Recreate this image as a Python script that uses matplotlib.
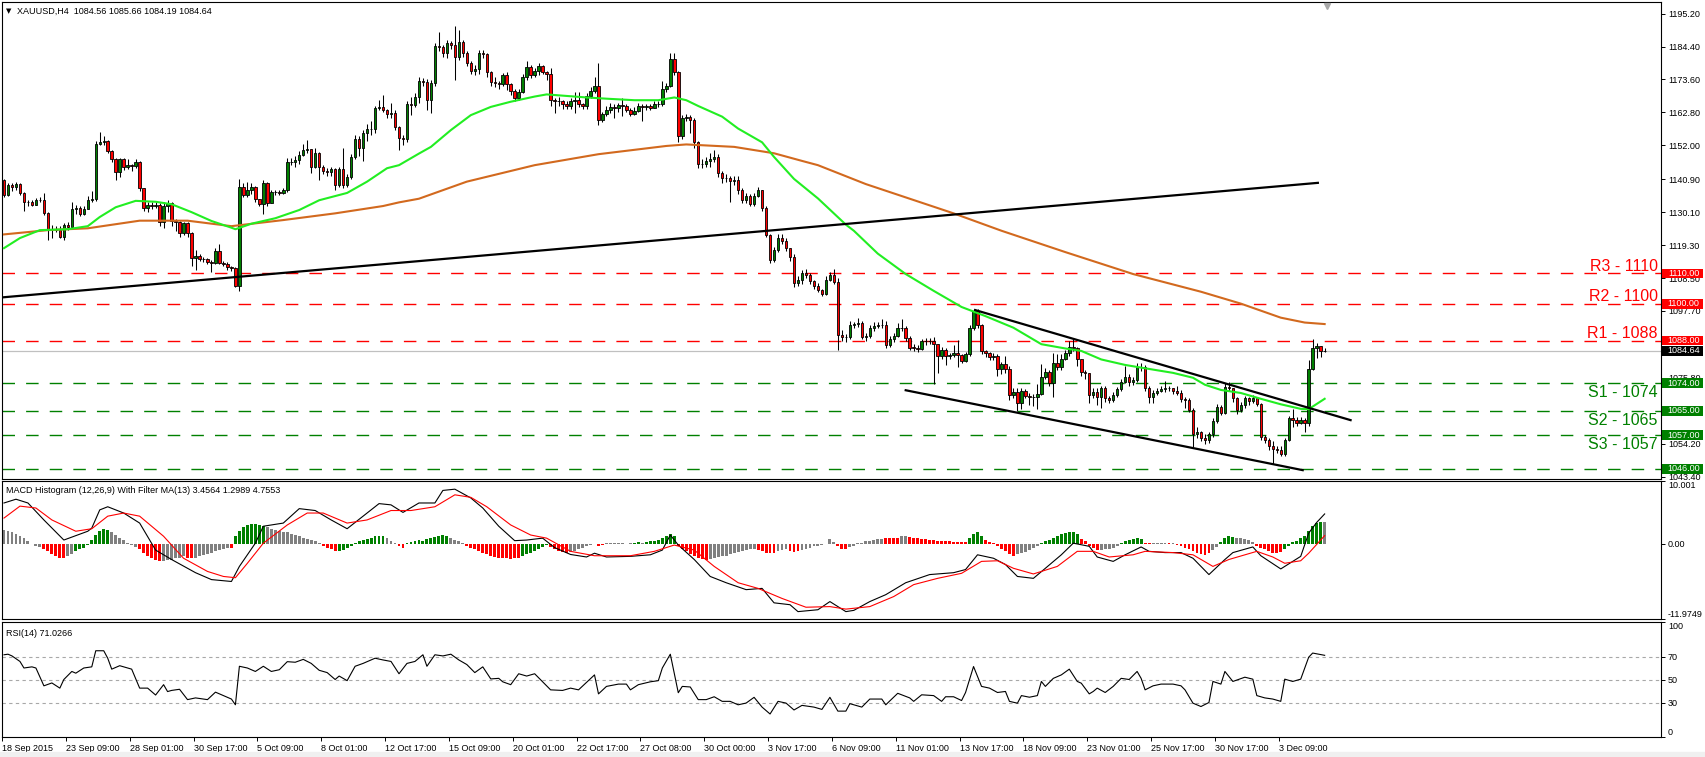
import matplotlib
matplotlib.use("Agg")
import matplotlib.pyplot as plt
import matplotlib.transforms as mtransforms
from matplotlib.patches import Rectangle
import numpy as np

plt.rcParams['font.family'] = ['Liberation Sans', 'DejaVu Sans']

# ---- XAUUSD H4 candles ----
first_open = 1140.5
closes = [
    1135.8, 1139.0, 1138.3, 1139.2, 1136.4, 1133.5, 1133.3, 1132.6, 1134.1, 1134.0,
    1129.8, 1124.5, 1124.6, 1124.4, 1122.0, 1125.8, 1125.3, 1131.2, 1131.5, 1129.6,
    1131.2, 1134.1, 1134.3, 1152.6, 1153.2, 1153.4, 1150.3, 1147.4, 1143.4, 1147.4,
    1145.0, 1145.5, 1145.3, 1146.5, 1137.9, 1131.6, 1132.4, 1132.0, 1132.4, 1126.9,
    1132.0, 1133.0, 1127.3, 1127.0, 1123.2, 1126.4, 1123.2, 1115.1, 1115.7, 1114.7,
    1114.6, 1113.8, 1113.5, 1117.4, 1113.5, 1113.0, 1112.2, 1111.7, 1105.9, 1138.3,
    1135.7, 1137.3, 1138.5, 1134.3, 1132.7, 1139.6, 1133.0, 1136.6, 1136.6, 1136.4,
    1137.3, 1146.6, 1146.4, 1147.3, 1148.8, 1150.6, 1150.8, 1145.0, 1149.4, 1145.0,
    1143.5, 1143.3, 1144.1, 1139.0, 1144.1, 1139.0, 1141.7, 1148.2, 1154.2, 1151.0,
    1155.9, 1157.5, 1157.3, 1164.1, 1164.6, 1163.5, 1162.4, 1162.7, 1158.0, 1154.5,
    1154.0, 1165.5, 1165.3, 1167.8, 1173.1, 1172.8, 1166.8, 1172.4, 1184.5, 1184.4,
    1182.3, 1185.5, 1184.8, 1180.9, 1185.8, 1182.3, 1179.0, 1176.5, 1177.0, 1182.3,
    1181.8, 1176.0, 1172.7, 1172.6, 1172.0, 1175.0, 1172.0, 1169.9, 1167.5, 1169.6,
    1174.4, 1177.7, 1175.2, 1176.3, 1178.0, 1176.2, 1175.4, 1166.8, 1166.5, 1166.5,
    1165.5, 1165.0, 1166.7, 1167.0, 1165.5, 1164.8, 1168.3, 1169.7, 1171.6, 1160.4,
    1162.2, 1163.7, 1164.6, 1164.2, 1165.1, 1165.0, 1163.6, 1162.2, 1163.3, 1164.9,
    1164.5, 1164.8, 1164.3, 1165.5, 1165.6, 1170.4, 1171.4, 1180.2, 1176.1, 1155.2,
    1161.1, 1161.4, 1160.2, 1153.0, 1145.8, 1146.0, 1147.0, 1147.6, 1148.1, 1142.9,
    1141.2, 1141.3, 1140.2, 1140.7, 1137.4, 1134.2, 1135.4, 1132.8, 1135.4, 1137.2,
    1131.4, 1122.6, 1114.4, 1117.7, 1121.6, 1120.5, 1118.3, 1115.4, 1106.8, 1108.0,
    1110.3, 1109.6, 1107.5, 1105.8, 1104.7, 1103.4, 1108.0, 1109.4, 1107.3, 1089.8,
    1089.3, 1089.0, 1093.1, 1093.3, 1093.6, 1089.2, 1089.5, 1092.0, 1092.7, 1093.1,
    1093.1, 1086.5, 1088.4, 1089.5, 1092.0, 1092.2, 1088.7, 1085.7, 1085.6, 1085.1,
    1087.9, 1087.8, 1087.9, 1086.8, 1082.9, 1084.9, 1082.9, 1083.2, 1084.0, 1083.3,
    1081.4, 1083.5, 1092.0, 1097.8, 1093.1, 1084.6, 1083.8, 1082.5, 1082.9, 1078.8,
    1080.3, 1078.8, 1070.1, 1071.2, 1067.4, 1071.5, 1069.8, 1069.6, 1069.4, 1070.6,
    1076.1, 1077.7, 1074.1, 1080.5, 1079.4, 1082.1, 1083.8, 1085.9, 1085.5, 1082.1,
    1077.7, 1077.3, 1070.1, 1071.2, 1069.5, 1072.3, 1069.0, 1068.5, 1070.1, 1072.0,
    1074.5, 1076.1, 1074.5, 1075.2, 1079.4, 1079.2, 1072.6, 1069.5, 1070.9, 1071.5,
    1072.0, 1072.3, 1072.3, 1071.6, 1070.8, 1068.7, 1068.5, 1065.2, 1057.5, 1058.1,
    1056.2, 1055.3, 1057.3, 1061.7, 1066.3, 1064.3, 1072.8, 1072.6, 1069.0, 1065.2,
    1066.8, 1069.0, 1068.2, 1069.0, 1067.2, 1056.4, 1055.3, 1053.4, 1052.6, 1052.1,
    1050.8, 1055.3, 1062.5, 1062.0, 1061.0, 1061.8, 1060.8, 1078.8, 1085.4, 1086.2,
    1084.56, 1084.64,
]
highs = [
    1141.0, 1139.8, 1139.5, 1140.0, 1139.5, 1136.8, 1134.0, 1134.0, 1134.8, 1135.2,
    1136.5, 1130.0, 1126.0, 1125.5, 1125.5, 1126.5, 1127.0, 1133.5, 1132.5, 1132.0,
    1132.0, 1135.5, 1137.0, 1153.5, 1156.5, 1155.2, 1153.6, 1150.5, 1147.8, 1148.0,
    1148.0, 1147.4, 1146.0, 1147.4, 1147.0, 1138.0, 1133.5, 1133.3, 1133.3, 1133.0,
    1133.5, 1134.0, 1133.5, 1128.0, 1127.3, 1127.0, 1126.8, 1123.5, 1117.8, 1116.5,
    1115.5, 1115.0, 1114.5, 1118.5, 1119.5, 1114.0, 1113.8, 1112.5, 1112.0, 1140.9,
    1139.8, 1140.0, 1139.5, 1138.8, 1134.5, 1140.8, 1140.0, 1137.2, 1137.5, 1137.2,
    1138.0, 1148.0, 1147.8, 1148.5, 1150.0, 1152.6, 1153.9, 1150.5, 1151.0, 1149.8,
    1145.5, 1144.5, 1145.0, 1144.5, 1145.0, 1151.0, 1142.5, 1149.0, 1155.5, 1155.0,
    1157.0, 1159.0, 1160.0, 1165.0, 1166.8, 1168.5, 1164.0, 1166.0, 1163.5, 1158.5,
    1155.5, 1166.5, 1168.0, 1169.0, 1174.3, 1174.0, 1173.6, 1173.5, 1185.5, 1189.2,
    1185.0, 1186.5, 1186.3, 1191.0, 1189.8, 1186.5, 1182.8, 1179.5, 1178.3, 1183.3,
    1183.3, 1182.2, 1176.3, 1174.5, 1173.0, 1175.7, 1176.0, 1172.5, 1170.5, 1170.4,
    1175.4, 1179.5, 1178.5, 1177.5, 1179.0, 1178.5, 1176.5, 1177.5, 1167.5, 1168.0,
    1167.0, 1166.5, 1167.5, 1169.5, 1169.5, 1166.0, 1169.0, 1171.0, 1174.5, 1179.0,
    1163.0, 1165.0, 1166.0, 1165.5, 1166.0, 1167.5, 1165.5, 1164.2, 1164.5, 1166.0,
    1165.5, 1165.7, 1165.6, 1166.4, 1166.6, 1173.0, 1172.5, 1182.2, 1182.2, 1176.5,
    1162.0, 1162.3, 1162.0, 1161.0, 1153.5, 1147.5, 1148.3, 1149.5, 1150.5, 1149.0,
    1143.5, 1142.5, 1142.0, 1142.0, 1142.0, 1138.0, 1136.5, 1136.0, 1136.3, 1138.5,
    1137.5, 1132.0, 1123.0, 1118.8, 1122.8, 1122.8, 1121.5, 1118.5, 1116.5, 1109.0,
    1111.0, 1111.5, 1110.0, 1108.0, 1106.8, 1105.0, 1109.0, 1110.5, 1111.3, 1108.5,
    1091.4, 1090.0, 1094.5, 1094.0, 1095.3, 1094.5, 1090.5, 1093.0, 1094.0, 1094.0,
    1095.0, 1094.5, 1089.5, 1090.5, 1093.8, 1095.0, 1092.8, 1089.5, 1086.8, 1086.5,
    1088.6, 1088.8, 1088.8, 1089.0, 1087.0, 1086.0, 1085.5, 1084.0, 1086.4, 1088.1,
    1083.5, 1084.2, 1093.0, 1098.5, 1098.3, 1093.5, 1085.0, 1084.2, 1084.0, 1083.5,
    1081.0, 1082.9, 1079.5, 1072.5, 1072.3, 1072.5, 1072.0, 1070.8, 1070.5, 1073.9,
    1080.3, 1079.0, 1078.5, 1083.8, 1083.5, 1083.5, 1085.0, 1088.0, 1088.4, 1086.0,
    1082.0, 1078.5, 1077.5, 1072.5, 1072.3, 1073.0, 1073.0, 1069.8, 1071.0, 1072.8,
    1075.5, 1079.6, 1077.0, 1076.0, 1080.5, 1080.7, 1080.0, 1073.0, 1071.8, 1072.5,
    1073.0, 1074.8, 1073.0, 1072.5, 1073.0, 1071.8, 1069.5, 1069.0, 1066.0, 1059.5,
    1058.5, 1057.5, 1058.0, 1062.5, 1067.2, 1066.8, 1074.0, 1074.5, 1072.5, 1069.5,
    1068.0, 1069.8, 1069.5, 1070.0, 1069.2, 1067.5, 1057.0, 1056.0, 1055.0, 1053.5,
    1053.3, 1056.0, 1063.2, 1065.5, 1063.0, 1062.8, 1062.5, 1081.5, 1088.4, 1087.3,
    1086.3, 1085.66,
]
lows = [
    1135.0, 1135.5, 1137.0, 1137.5, 1135.8, 1130.5, 1132.0, 1132.0, 1132.3, 1133.3,
    1129.0, 1120.9, 1121.5, 1123.5, 1121.5, 1121.0, 1124.3, 1124.5, 1129.5, 1128.8,
    1129.0, 1131.0, 1133.5, 1133.8, 1152.0, 1152.0, 1149.5, 1146.5, 1140.7, 1141.5,
    1144.0, 1144.3, 1143.5, 1144.5, 1137.0, 1130.5, 1130.0, 1131.0, 1131.5, 1125.5,
    1125.0, 1130.0, 1125.5, 1124.0, 1122.0, 1122.5, 1122.0, 1112.4, 1111.0, 1114.0,
    1113.8, 1113.0, 1110.5, 1113.0, 1113.0, 1112.3, 1111.0, 1110.8, 1105.5, 1104.2,
    1135.0, 1135.0, 1136.0, 1133.5, 1132.0, 1129.6, 1132.0, 1133.0, 1135.8, 1135.6,
    1136.0, 1136.8, 1145.5, 1145.0, 1146.0, 1148.5, 1149.5, 1143.0, 1144.5, 1140.7,
    1142.5, 1142.0, 1142.0, 1137.5, 1138.5, 1138.0, 1138.5, 1141.0, 1147.5, 1148.5,
    1147.0, 1153.5, 1155.5, 1156.0, 1163.5, 1162.8, 1161.0, 1161.0, 1157.0, 1150.5,
    1152.0, 1153.0, 1162.0, 1164.5, 1166.0, 1171.5, 1163.5, 1162.6, 1171.5, 1183.0,
    1181.0, 1180.5, 1183.5, 1173.4, 1180.0, 1181.0, 1178.0, 1175.5, 1175.0, 1175.5,
    1180.5, 1174.5, 1171.5, 1171.0, 1170.5, 1171.5, 1170.0, 1168.5, 1166.5, 1167.0,
    1169.0, 1173.5, 1174.0, 1174.3, 1175.0, 1175.5, 1173.5, 1165.0, 1162.5, 1165.0,
    1164.0, 1164.0, 1164.0, 1162.5, 1164.5, 1164.0, 1164.0, 1167.5, 1169.0, 1158.7,
    1159.5, 1161.5, 1162.5, 1161.0, 1163.0, 1161.5, 1162.8, 1161.5, 1162.0, 1163.0,
    1160.0, 1163.5, 1163.5, 1164.5, 1164.5, 1165.0, 1169.5, 1171.0, 1175.0, 1153.0,
    1154.0, 1160.0, 1156.0, 1151.0, 1144.5, 1144.5, 1145.0, 1145.0, 1146.5, 1141.5,
    1139.5, 1140.0, 1133.5, 1139.0, 1136.0, 1133.0, 1133.0, 1132.0, 1132.0, 1135.0,
    1130.5, 1121.8, 1113.5, 1113.8, 1117.0, 1119.5, 1117.5, 1114.0, 1105.5, 1106.0,
    1106.5, 1108.5, 1106.5, 1104.8, 1103.8, 1102.5, 1103.0, 1107.5, 1106.5, 1084.9,
    1088.0, 1087.5, 1088.5, 1092.0, 1092.5, 1088.5, 1088.0, 1088.8, 1091.0, 1092.0,
    1092.0, 1085.5, 1086.0, 1087.5, 1089.0, 1091.0, 1088.0, 1085.0, 1084.5, 1084.2,
    1085.0, 1086.5, 1087.0, 1073.9, 1077.2, 1082.0, 1079.9, 1082.0, 1082.5, 1079.4,
    1080.5, 1081.0, 1083.0, 1091.5, 1092.0, 1083.5, 1082.5, 1081.5, 1081.5, 1076.5,
    1077.0, 1077.5, 1068.5, 1069.0, 1065.0, 1065.5, 1069.0, 1067.0, 1066.5, 1065.7,
    1070.0, 1075.5, 1073.0, 1069.6, 1078.5, 1078.5, 1081.5, 1083.0, 1084.5, 1079.5,
    1076.5, 1075.5, 1067.6, 1069.0, 1067.0, 1066.0, 1068.0, 1067.5, 1067.8, 1069.5,
    1071.5, 1074.0, 1073.0, 1073.5, 1074.5, 1078.0, 1071.5, 1067.6, 1067.5, 1070.0,
    1071.0, 1071.0, 1071.5, 1070.5, 1070.0, 1068.0, 1066.0, 1064.5, 1053.2, 1056.0,
    1055.0, 1054.0, 1054.5, 1056.5, 1061.0, 1063.5, 1064.0, 1071.5, 1068.0, 1064.0,
    1064.5, 1066.0, 1067.0, 1067.5, 1066.5, 1055.5, 1054.5, 1052.0, 1047.5, 1051.0,
    1050.0, 1050.3, 1055.0, 1059.7, 1060.0, 1060.5, 1058.1, 1060.0, 1078.5, 1082.3,
    1082.5, 1084.19,
]

# moving averages (green = fast, orange = slow), read at selected bars
ma_fast_bars = [0, 4, 9, 16, 21, 24, 28, 33, 38, 42, 47, 52, 57, 58, 62, 68, 74, 79, 86, 91,
                96, 99, 104, 107, 112, 117, 122, 127, 133, 136, 141, 146, 151, 158, 164, 168,
                171, 174, 180, 184, 190, 193, 198, 204, 211, 213, 219, 226, 233, 240, 246,
                253, 260, 266, 270, 275, 281, 286, 293, 298, 301, 305, 310, 315, 320, 325,
                327, 331]
ma_fast_vals = [1118.3, 1121.6, 1124.2, 1124.5, 1125.5, 1128.5, 1131.7, 1133.8, 1133.5, 1132.7,
                1130.1, 1127.2, 1125.0, 1124.5, 1126.3, 1128.1, 1130.8, 1134.0, 1136.4, 1140.1,
                1144.5, 1145.5, 1149.3, 1151.5, 1157.0, 1161.9, 1164.6, 1166.3, 1168.0, 1168.7,
                1168.2, 1167.7, 1167.3, 1166.8, 1166.8, 1167.7, 1166.8, 1164.9, 1161.4, 1157.5,
                1153.0, 1148.2, 1141.0, 1134.6, 1126.0, 1124.0, 1116.5, 1109.8, 1104.3, 1099.0,
                1096.0, 1092.2, 1086.8, 1085.4, 1084.6, 1081.8, 1080.0, 1078.9, 1077.4, 1075.8,
                1073.5, 1071.8, 1070.8, 1068.9, 1067.1, 1065.6, 1065.5, 1068.9]
ma_slow_bars = [0, 11, 21, 34, 46, 57, 70, 83, 95, 99, 104, 116, 133, 149, 166, 171, 183, 193,
                200, 204, 216, 238, 250, 266, 283, 300, 310, 320, 326, 331]
ma_slow_vals = [1122.8, 1124.2, 1124.8, 1127.3, 1127.3, 1125.5, 1127.5, 1129.7, 1132.1, 1133.3,
                1134.5, 1140.1, 1145.5, 1149.1, 1151.8, 1152.3, 1151.5, 1149.4, 1146.9, 1145.5,
                1139.3, 1129.7, 1124.0, 1117.0, 1109.8, 1104.0, 1100.1, 1095.5, 1093.9, 1093.4]

# hand-drawn trend lines: (bar, price) start / end
trend_long = ([0, 329.3], [1102.2, 1139.7])
channel_top = ([243.4, 337.5], [1098.0, 1061.9])
channel_bottom = ([226.0, 325.5], [1071.7, 1045.5])

# support / resistance levels
res_levels = [1110, 1100, 1088]
res_names = ["R3 - 1110", "R2 - 1100", "R1 - 1088"]
sup_levels = [1074, 1065, 1057, 1046]
sup_names = ["S1 - 1074", "S2 - 1065", "S3 - 1057", ""]
last_price = 1084.64

price_ticks = [1195.20, 1184.40, 1173.60, 1162.80, 1152.00, 1140.90, 1130.10, 1119.30,
               1108.50, 1097.70, 1086.90, 1075.80, 1065.00, 1054.20, 1043.40]
# scale labels that sit fully under a price box in the reference
hidden_ticks = [1086.90, 1065.00]

# MACD histogram (12,26,9) with filter MA(13)
hist_vals = [
    2.2, 2.1, 1.9, 1.6, 1.3, 0.9, 0.5, -0.1, -0.3, -0.5,
    -0.8, -1.2, -1.6, -2.0, -2.2, -2.3, -2.0, -1.6, -1.2, -0.9, -0.6, -0.2,
    0.6, 1.4, 2.0, 2.4, 2.2, 1.8, 1.4, 1.0, 0.6, 0.2, -0.2, -0.5,
    -0.9, -1.4, -1.9, -2.3, -2.6, -2.8, -2.8, -2.6, -2.5, -2.3, -2.2, -2.0, -2.2, -2.3,
    -2.2, -2.0, -1.8, -1.6, -1.4, -1.2, -1.0, -0.8, -0.6, -0.6,
    1.2, 2.0, 2.6, 3.0, 3.2, 3.2, 3.0, 2.8,
    2.6, 2.4, 2.2, 2.0, 1.9, 1.8, 1.6, 1.4, 1.2, 1.0, 0.8, 0.6, 0.4, 0.2,
    -0.3, -0.6, -0.9, -1.1, -1.2, -1.0, -0.7, -0.3,
    0.2, 0.4, 0.6, 0.8, 1.0, 1.2, 1.3, 1.2, 0.9, 0.5, 0.2, -0.3, -0.6,
    0.2, 0.3, 0.4, 0.6, 0.5, 0.7, 0.9, 1.1, 1.3, 1.4, 1.2, 0.9, 0.6, 0.4, 0.2,
    -0.3, -0.6, -0.9, -1.2, -1.5, -1.7, -1.9, -2.1, -2.2, -2.3, -2.3, -2.4, -2.3, -2.2,
    -2.0, -1.7, -1.4, -1.1, -0.8, -0.5, -0.2, -0.5, -0.8, -1.1, -1.3, -1.5,
    -1.3, -1.1, -0.9, -0.6, -0.4, -0.2, -0.1, -0.3, -0.2,
    0.1, 0.1, 0.1, 0.1, 0.05, -0.1, 0.1, 0.2, 0.3, 0.2,
    0.3, 0.4, 0.5, 0.6, 0.9, 1.3, 1.5, 1.3,
    -0.3, -0.8, -1.2, -1.6, -1.9, -2.2, -2.4, -2.5,
    -2.4, -2.3, -2.1, -2.0, -1.9, -1.7, -1.5, -1.3, -1.2, -1.0, -0.9, -0.8,
    -1.0, -1.2, -1.4, -1.5, -1.4, -1.2, -1.0, -0.9, -1.1, -1.3, -1.2,
    -1.0, -0.8, -0.6, -0.4, -0.3, -0.2, -0.1, 0.7, 0.3, -0.4, -0.8, -0.9, -0.5, -0.3,
    0.1, 0.2, 0.4, 0.5, 0.6, 0.7, 0.8, 0.9, 0.9, 0.9, 1.0, 1.3, 1.3,
    1.1, 1.0, 0.9, 0.8, 0.7, 0.6, 0.6, 0.5, 0.5, 0.4, 0.4, 0.3, 0.3, 0.3, 0.3,
    1.0, 1.6, 1.8, 1.3, 0.6, 0.3, 0.1, -0.4, -0.8, -1.2, -1.6, -1.9,
    -1.7, -1.5, -1.3, -1.0, -0.7, -0.4,
    0.2, 0.4, 0.6, 0.9, 1.2, 1.5, 1.7, 1.8, 1.8, 1.6, 0.8, 0.4,
    -0.3, -0.7, -1.0, -1.0, -0.9, -0.8, -0.6, -0.3,
    0.2, 0.4, 0.6, 0.8, 0.9, 0.7, 0.2, 0.1, 0.1, 0.1, 0.1, 0.1, 0.1, 0.05,
    -0.2, -0.4, -0.6, -0.9, -1.2, -1.5, -1.7, -1.8, -1.5, -1.0, -0.5,
    0.3, 0.9, 1.2, 1.1, 1.0, 0.9, 0.8, 0.6, 0.3,
    -0.3, -0.6, -0.9, -1.2, -1.4, -1.5, -1.3, -0.8, -0.3,
    0.3, 0.5, 0.9, 1.3, 2.0, 2.8, 3.3, 3.4, 3.46,
]
hist_cols = ("kkkkkkk" "kkk" "rrrrrr" "kk" "gggg" "ggggg" "kkkkk" "kk"
             "rrrrrr" "kkkkkk" "rr" "kkkkkkkkk" "r" "gggggggg" "kkkkkkkkkkkkkk"
             "rrrr" "gggg" "gggggggg" "kkk" "rr" "ggggggggggg" "kkkk"
             "rrrrrrrrrrrrrr" "ggggggg" "rrrrr" "kkkkkk" "krr" "kkkkk" "r" "k"
             "gg" "k" "gggggggg" "rrrrrrrr" "kkkkkkkkkkkk" "rrrrr" "kkk" "rrr"
             "kkkkkkk" "kk" "rrr" "kk" "kkkkkkk" "rrrr" "kk" "rrrrrrrrrrrrrrr"
             "gggg" "rrr" "rrrrr" "kkkkkk" "gggggggggg" "rr" "rrr" "kkkkk"
             "gggggg" "rr" "kkkk" "r" "k" "rrrrrrrrr" "kk" "gggg" "kkkkk"
             "rrrrrrr" "gg" "gggg" "gggg" "k")

macd_bars = [0, 3, 6, 10, 15, 21, 22, 24, 26, 30, 34, 38, 42, 48, 52, 57, 59, 63, 65, 70,
             74, 78, 82, 86, 90, 94, 97, 100, 104, 108, 110, 113, 117, 120, 124, 128, 131,
             135, 138, 142, 146, 148, 151, 157, 162, 165, 167, 169, 173, 177, 181, 186,
             190, 193, 197, 199, 204, 207, 211, 213, 217, 221, 226, 232, 238, 241, 244,
             248, 251, 254, 258, 261, 265, 268, 272, 274, 278, 281, 285, 287, 291, 295,
             298, 302, 306, 308, 313, 315, 320, 323, 325, 327, 329, 331]
macd_vals = [6.5, 7.1, 6.5, 3.8, 0.6, 2.0, 2.5, 5.4, 5.9, 4.9, 3.3, -1.0, -2.5, -4.6, -5.7,
             -6.0, -3.6, 0.1, 2.8, 3.3, 5.6, 5.3, 3.8, 2.4, 4.4, 6.4, 6.2, 5.0, 6.5, 6.5,
             8.5, 8.7, 7.3, 5.7, 2.8, 0.5, 0.6, 0.9, -0.6, -1.7, -2.1, -1.5, -2.1, -2.0,
             -1.75, -1.0, 1.4, -0.2, -2.5, -5.2, -6.2, -7.3, -7.1, -9.4, -9.7, -10.8,
             -10.5, -9.2, -10.8, -10.6, -9.2, -8.1, -6.2, -4.9, -4.6, -4.1, -1.75, -2.3,
             -3.3, -5.2, -5.5, -3.9, -1.75, 0.1, -0.4, -2.1, -2.8, -1.75, -0.5, -1.2, -1.4,
             -1.4, -2.3, -4.9, -2.5, -1.4, -0.5, -1.9, -4.0, -2.8, -2.0, 1.7, 3.4, 4.7553]
signal_bars = [0, 4, 8, 12, 18, 22, 26, 30, 34, 40, 45, 51, 55, 58, 61, 65, 71, 76, 80, 86,
               91, 97, 102, 108, 113, 117, 121, 127, 132, 136, 142, 148, 157, 163, 168, 173,
               178, 184, 189, 195, 201, 207, 211, 217, 223, 228, 234, 240, 245, 249, 253,
               258, 264, 269, 273, 277, 283, 286, 293, 298, 303, 307, 314, 318, 321, 325,
               327, 331]
signal_vals = [4.1, 6.0, 5.7, 3.8, 2.0, 2.4, 4.4, 4.9, 4.4, 1.2, -2.3, -4.4, -5.2, -5.4, -3.1,
               0.1, 3.0, 4.9, 4.9, 3.3, 3.8, 5.3, 5.3, 5.9, 7.8, 7.4, 5.9, 3.0, 1.4, 0.9, -1.2,
               -1.9, -1.9, -1.2, -0.2, -1.0, -3.6, -6.2, -7.1, -8.7, -10.1, -10.0, -10.4,
               -10.0, -8.4, -6.5, -5.5, -4.7, -2.8, -2.7, -3.9, -4.8, -3.6, -1.2, -1.2, -2.1,
               -1.75, -1.2, -1.4, -1.75, -3.6, -2.5, -1.2, -2.1, -3.1, -2.7, -1.5, 1.2989]

rsi_bars = [0, 1, 2, 4, 5, 7, 8, 10, 12, 14, 15, 17, 18, 20, 22, 23, 25, 26, 27, 29, 31, 32,
            34, 36, 38, 40, 41, 42, 44, 46, 48, 51, 53, 55, 57, 58, 59, 61, 63, 65, 67, 69,
            71, 73, 75, 77, 79, 81, 83, 84, 86, 88, 90, 93, 95, 97, 99, 101, 103, 105, 106,
            108, 110, 112, 114, 116, 118, 120, 122, 124, 125, 127, 129, 131, 133, 135, 137,
            140, 142, 144, 146, 148, 149, 151, 154, 156, 157, 159, 162, 164, 165, 167, 169,
            170, 172, 174, 176, 178, 180, 182, 184, 186, 188, 190, 192, 194, 196, 198, 200,
            203, 205, 207, 209, 211, 212, 215, 217, 220, 221, 224, 227, 228, 230, 233, 235,
            236, 238, 240, 241, 243, 245, 247, 249, 251, 252, 254, 255, 257, 259, 260, 261,
            263, 265, 267, 269, 270, 272, 273, 274, 276, 278, 280, 282, 284, 285, 286, 288,
            290, 293, 295, 296, 298, 300, 302, 303, 305, 306, 308, 311, 313, 314, 316, 318,
            320, 321, 323, 325, 327, 328, 331]
rsi_vals = [71.5, 72, 70.5, 65.7, 60, 61, 60, 44.5, 47, 42.5, 50, 57, 55.5, 60, 61, 75, 75,
            68.5, 59, 62, 60, 59, 42.5, 42.5, 36.5, 45.5, 39.5, 40.5, 41.5, 32.5, 34, 32.5,
            39, 36, 33, 28, 61.5, 60, 57, 61.5, 57, 58.5, 65.5, 65, 67.5, 64, 58, 56, 50, 53,
            49, 61.5, 64, 68.5, 67, 65.7, 55, 64, 65.7, 71.5, 61.5, 71.5, 70.5, 72, 67, 63,
            56, 61, 50.5, 51, 48, 45.5, 55, 53, 55, 48, 41, 40.5, 42.5, 41, 47.5, 54, 37.5,
            44, 46, 46, 41, 45.5, 48, 49, 60, 72, 38.5, 44, 43.5, 32.5, 32.5, 35, 31, 31, 28,
            29.5, 34.5, 26, 20, 31, 29.5, 23.5, 27.5, 26, 24, 34.5, 22.5, 22.5, 29, 26, 33,
            33, 28, 38, 34, 31, 36.7, 36, 31, 35, 35, 31.7, 38.7, 61.3, 44, 42.5, 38.7, 39.6,
            31, 29.4, 36, 34.6, 36, 48.3, 44, 51, 54, 59, 48.3, 46.8, 37.5, 39.6, 42.5, 38.7,
            44, 51, 50, 57, 51, 41, 44.5, 46, 46, 44.5, 41, 29.4, 26.5, 30, 48.3, 46, 57,
            48.3, 52, 50.3, 36, 34, 33, 31, 50.3, 48.3, 50.3, 69.4, 73, 71.0266]

date_labels = ["18 Sep 2015", "23 Sep 09:00", "28 Sep 01:00", "30 Sep 17:00", "5 Oct 09:00",
               "8 Oct 01:00", "12 Oct 17:00", "15 Oct 09:00", "20 Oct 01:00", "22 Oct 17:00",
               "27 Oct 08:00", "30 Oct 00:00", "3 Nov 17:00", "6 Nov 09:00", "11 Nov 01:00",
               "13 Nov 17:00", "18 Nov 09:00", "23 Nov 01:00", "25 Nov 17:00", "30 Nov 17:00",
               "3 Dec 09:00"]
bars_per_label = 16

# ---------------- layout ----------------
W, H = 1705, 757
fig = plt.figure(figsize=(W / 100, H / 100), dpi=100)


def panel(top, bottom):
    return [2 / W, 1 - bottom / H, 1659 / W, (bottom - top) / H]


ax = fig.add_axes(panel(2, 479))
ax_macd = fig.add_axes(panel(481, 619), sharex=ax)
ax_rsi = fig.add_axes(panel(622, 737), sharex=ax)
fig.patches.append(Rectangle((0, 0), 1, 5 / H, transform=fig.transFigure,
                             color='#F0F0F0', zorder=0))

closes = np.array(closes)
opens = np.r_[first_open, closes[:-1]]
highs = np.maximum(np.array(highs), np.maximum(opens, closes))
lows = np.minimum(np.array(lows), np.minimum(opens, closes))
x = np.arange(len(closes))
up = closes > opens

# levels
for lv in res_levels:
    ax.axhline(lv, color='#FF0000', lw=1.0, ls=(0, (9, 8)), zorder=2)
for lv in sup_levels:
    ax.axhline(lv, color='#008000', lw=1.0, ls=(0, (9, 8)), zorder=2)
ax.axhline(last_price, color='#C0C0C0', lw=0.9, zorder=2)

# candles
ax.vlines(x, lows, highs, color='black', lw=0.75, zorder=3)
body_lo = np.minimum(opens, closes)
body_h = np.maximum(np.abs(closes - opens), 0.12)
ax.bar(x, body_h, bottom=body_lo, width=0.62,
       color=['#008000' if u else '#FF0000' for u in up],
       edgecolor='black', linewidth=0.6, zorder=4)

# moving averages and trend lines
ax.plot(ma_slow_bars, ma_slow_vals, color='#D2691E', lw=1.5, zorder=5)
ax.plot(ma_fast_bars, ma_fast_vals, color='#22EE22', lw=1.5, zorder=5)
for tx, ty in (trend_long, channel_top, channel_bottom):
    ax.plot(tx, ty, color='black', lw=1.6, zorder=6)

ax.set_xlim(-0.5, 415.3)
ax.set_ylim(1042.6, 1199.0)

# level labels
for lv, name in zip(res_levels, res_names):
    ax.text(414.5, lv + 0.8, name, color='#FF0000', fontsize=11.5,
            ha='right', va='baseline', zorder=7)
for lv, name in zip(sup_levels, sup_names):
    if name:
        ax.text(414.5, lv - 0.6, name, color='#008000', fontsize=11.5,
                ha='right', va='top', zorder=7)

# price boxes on the right axis
btrans = mtransforms.blended_transform_factory(ax.transAxes, ax.transData)
box_specs = ([(lv, '#FF0000') for lv in res_levels] +
             [(lv, '#008000') for lv in sup_levels] + [(last_price, 'black')])
for lv, col in box_specs:
    ax.add_patch(Rectangle((1661.5 / 1659 - 2 / 1659, lv - 1.6), 41 / 1659, 3.2,
                           transform=btrans, facecolor=col, edgecolor='none',
                           clip_on=False, zorder=8))
    ax.text(1683.5 / 1659 - 2 / 1659, lv, f"{lv:.2f}", transform=btrans, color='white',
            fontsize=6.5, ha='center', va='center', clip_on=False, zorder=9)

ax.yaxis.tick_right()
ax.set_yticks(price_ticks)
ax.set_yticklabels(["" if v in hidden_ticks else f"{v:.2f}" for v in price_ticks])

# shift marker
ax.plot([len(closes) - 0.4], [0.992], marker='v', ms=5, color='#A8A8A8',
        transform=mtransforms.blended_transform_factory(ax.transData, ax.transAxes),
        clip_on=False, zorder=9)

fig.text(6 / W, 1 - 11 / H, "\u25BC", fontsize=5, va='center', ha='left',
         family=['DejaVu Sans'])
fig.text(17 / W, 1 - 11 / H,
         f"XAUUSD,H4  {opens[-1]:.2f} {highs[-1]:.2f} {lows[-1]:.2f} {closes[-1]:.2f}",
         fontsize=6.5, va='center', ha='left')

# ---------------- MACD ----------------
cmap = {'g': '#008000', 'r': '#FF0000', 'k': '#808080'}
hx = np.arange(len(hist_vals))
ax_macd.bar(hx, hist_vals, width=0.72, color=[cmap[c] for c in hist_cols[:len(hist_vals)]],
            linewidth=0, zorder=2)
ax_macd.plot(macd_bars, macd_vals, color='black', lw=0.8, zorder=3)
ax_macd.plot(signal_bars, signal_vals, color='#FF0000', lw=0.8, zorder=3)
ax_macd.set_ylim(-11.9749, 10.001)
ax_macd.yaxis.tick_right()
ax_macd.set_yticks([10.001, 0.0, -11.9749])
ax_macd.set_yticklabels(["10.001", "0.00", "-11.9749"])
ax_macd.get_yticklabels()[0].set_va('top')
ax_macd.get_yticklabels()[2].set_va('bottom')
ax_macd.text(4 / 1659, 0.93, "MACD Histogram (12,26,9) With Filter MA(13) 3.4564 1.2989 4.7553",
             transform=ax_macd.transAxes, fontsize=6.5, va='center', ha='left')

# ---------------- RSI ----------------
for lv in (70, 50, 30):
    ax_rsi.axhline(lv, color='#A8A8A8', lw=0.8, ls=(0, (3, 3)), zorder=1)
ax_rsi.plot(rsi_bars, rsi_vals, color='black', lw=0.8, zorder=3)
ax_rsi.set_ylim(0, 100)
ax_rsi.yaxis.tick_right()
ax_rsi.set_yticks([100, 70, 50, 30, 0])
ax_rsi.set_yticklabels(["100", "70", "50", "30", "0"])
ax_rsi.get_yticklabels()[0].set_va('top')
ax_rsi.get_yticklabels()[4].set_va('bottom')
ax_rsi.text(4 / 1659, 0.9, "RSI(14) 71.0266", transform=ax_rsi.transAxes,
            fontsize=6.5, va='center', ha='left')

ax_rsi.set_xticks(np.arange(len(date_labels)) * bars_per_label - 0.5)
ax_rsi.set_xticklabels(date_labels, ha='left')

for a in (ax, ax_macd, ax_rsi):
    for s in a.spines.values():
        s.set_linewidth(0.8)
        s.set_color('black')
    a.tick_params(axis='y', which='both', left=False, right=True, labelsize=6.5,
                  length=3, width=0.7, pad=2, direction='out')
    a.tick_params(axis='x', which='both', labelsize=6.5, length=3, width=0.7, pad=2)
for a in (ax, ax_macd):
    a.tick_params(axis='x', bottom=False, labelbottom=False)

fig.savefig("out.png", dpi=100)
